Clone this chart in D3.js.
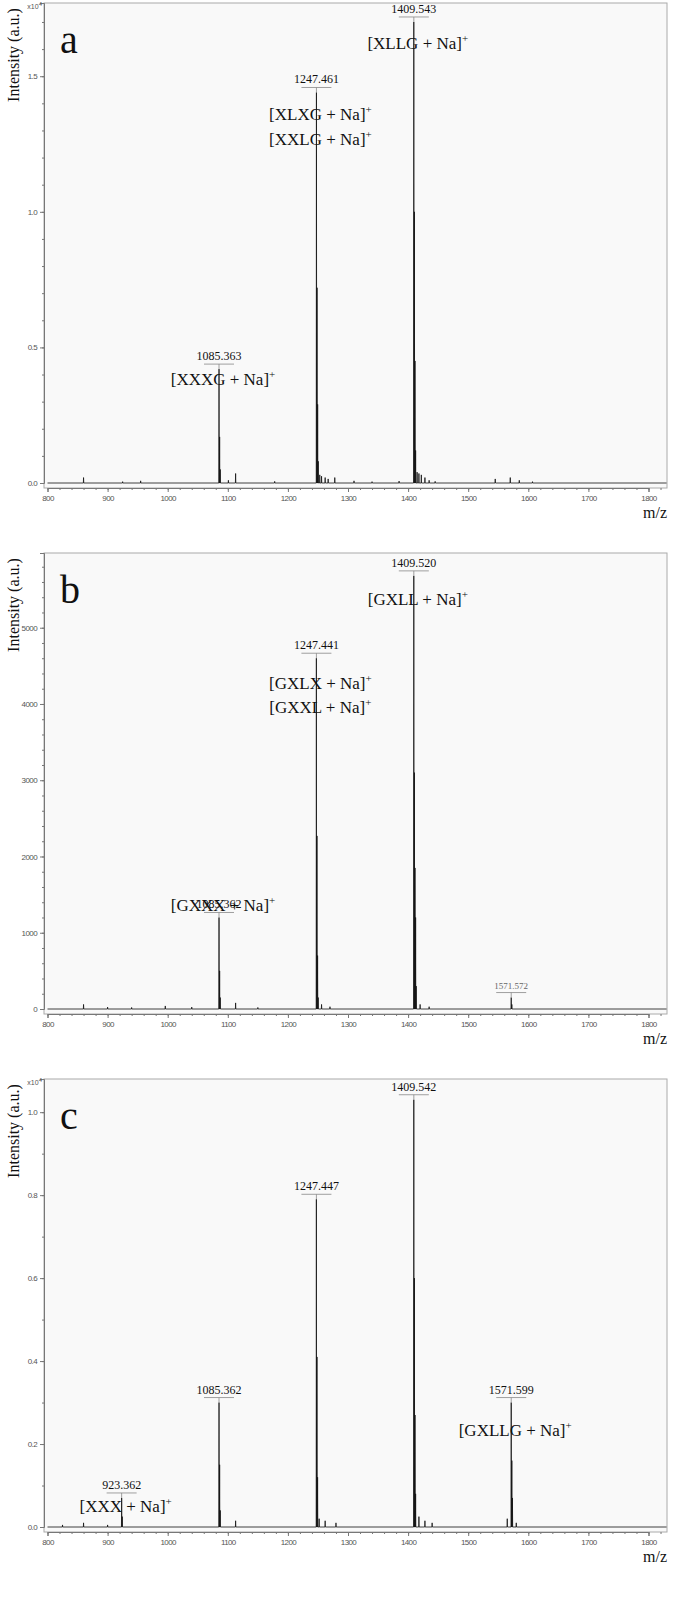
<!DOCTYPE html>
<html><head><meta charset="utf-8">
<script src="https://cdn.jsdelivr.net/npm/d3@7"></script>
<style>body{margin:0;background:#fff}</style></head><body>
<script>
// peaks: [m/z, intensity]
const peaksA = [[860,0.02],[925,0.005],[955,0.008],[1085.4,0.42],[1086.4,0.17],[1087.4,0.05],[1101,0.01],[1113,0.035],[1178,0.006],
 [1247.5,1.44],[1248.5,0.72],[1249.5,0.29],[1250.5,0.08],[1253,0.03],[1256,0.025],[1262,0.02],[1267,0.015],[1278,0.02],[1310,0.008],[1340,0.005],[1385,0.007],
 [1409.5,1.70],[1410.5,1.00],[1411.5,0.45],[1412.5,0.12],[1415,0.04],[1418,0.035],[1422,0.03],[1428,0.02],[1435,0.01],[1445,0.006],[1545,0.015],[1570,0.02],[1585,0.01],[1607,0.005]];
const peaksB = [[860,60],[900,25],[940,20],[996,40],[1040,25],[1085.4,1200],[1086.4,500],[1087.4,150],[1113,80],[1150,20],
 [1247.4,4600],[1248.4,2270],[1249.4,700],[1250.4,150],[1256,60],[1270,30],
 [1409.5,5680],[1410.5,3100],[1411.5,1850],[1412.5,1200],[1413.5,300],[1420,60],[1435,30],[1571.6,150],[1572.6,60]];
const peaksC = [[825,0.005],[860,0.01],[900,0.005],[923.4,0.07],[924.4,0.025],[1085.4,0.30],[1086.4,0.15],[1087.4,0.04],[1113,0.015],
 [1247.4,0.79],[1248.4,0.41],[1249.4,0.12],[1252,0.02],[1262,0.015],[1280,0.01],
 [1409.5,1.03],[1410.5,0.60],[1411.5,0.27],[1412.5,0.08],[1418,0.025],[1428,0.015],[1440,0.01],
 [1565,0.02],[1571.6,0.30],[1572.6,0.16],[1573.6,0.07],[1580,0.01]];
const annA = [[1085.363,0.42],[1247.461,1.44],[1409.543,1.70]];
const annB = [[1085.362,1200],[1247.441,4600],[1409.520,5680],[1571.572,150]];
const annC = [[923.362,0.07],[1085.362,0.30],[1247.447,0.79],[1409.542,1.03],[1571.599,0.30]];
const namesA = [["[XLLG + Na]",1409.5,1.60],["[XLXG + Na]",1247.5,1.34],["[XXLG + Na]",1247.5,1.245],["[XXXG + Na]",1085.4,0.36]];
const namesB = [["[GXLL + Na]",1409.5,5300],["[GXLX + Na]",1247.4,4200],["[GXXL + Na]",1247.4,3880],["[GXXX + Na]",1085.4,1280]];
const namesC = [["[GXLLG + Na]",1571.6,0.22],["[XXX + Na]",923.4,0.035]];
const yTicksA=[0,0.5,1.0,1.5], yTicksB=[0,1000,2000,3000,4000,5000], yTicksC=[0,0.2,0.4,0.6,0.8,1.0];
const xTicks=[800,900,1000,1100,1200,1300,1400,1500,1600,1700,1800];

const W=675,H=1603;
const svg=d3.select("body").append("svg").attr("width",W).attr("height",H);
const panels=[
 {letter:"a",peaks:peaksA,ann:annA,names:namesA,yt:yTicksA,ymax:1.77,minor:0.1,top:3,bot:483,fmt:d3.format(".1f"),exp:true},
 {letter:"b",peaks:peaksB,ann:annB,names:namesB,yt:yTicksB,ymax:5980,minor:200,top:553,bot:1009,fmt:d3.format("d"),exp:false},
 {letter:"c",peaks:peaksC,ann:annC,names:namesC,yt:yTicksC,ymax:1.08,minor:0.1,top:1079,bot:1527,fmt:d3.format(".1f"),exp:true}
];
const x=d3.scaleLinear().domain([800,1800]).range([47.5,648.5]);
const xL=44, xR=667;
panels.forEach(p=>{
 const y=d3.scaleLinear().domain([0,p.ymax]).range([p.bot,p.top]);
 const g=svg.append("g");
 g.append("rect").attr("x",xL).attr("y",p.top).attr("width",xR-xL).attr("height",p.bot+5-p.top).attr("fill","#f9f9f9").attr("stroke","#aaa");
 const ya=d3.axisLeft(y).tickValues(p.yt).tickFormat(p.fmt).tickSize(4);
 g.append("g").attr("transform",`translate(${xL},0)`).call(ya);
 const ym=d3.axisLeft(y).tickValues(d3.range(0,p.ymax,p.minor)).tickFormat("").tickSize(2);
 g.append("g").attr("transform",`translate(${xL},0)`).call(ym).select(".domain").remove();
 const xb=p.bot+5;
 const xa=d3.axisBottom(x).tickValues(xTicks).tickFormat(d3.format("d")).tickSize(4);
 g.append("g").attr("transform",`translate(0,${xb})`).call(xa);
 g.append("g").attr("transform",`translate(0,${xb})`).call(d3.axisBottom(x).tickValues(d3.range(800,1830,20)).tickFormat("").tickSize(2)).select(".domain").remove();
 g.selectAll(".tick text").attr("font-family","Liberation Sans").attr("font-size",8).attr("fill","#555").attr("letter-spacing","-0.6");
 g.selectAll(".domain,.tick line").attr("stroke","#777");
 const pts=[[800,0]];
 p.peaks.slice().sort((a,b)=>a[0]-b[0]).forEach(([m,h])=>{pts.push([m-0.35,0],[m,h],[m+0.35,0]);});
 pts.push([1830,0]);
 g.append("path").attr("d",d3.line().x(d=>x(d[0])).y(d=>y(d[1]))(pts)).attr("fill","none").attr("stroke","#111").attr("stroke-width",0.8);
 p.ann.forEach(([m,h])=>{
  const px=x(m), small=(p.letter==="b"&&h<p.ymax*0.05);
  const top=y(h)-5;
  g.append("line").attr("x1",px).attr("x2",px).attr("y1",y(h)).attr("y2",top).attr("stroke","#888").attr("stroke-width",0.8);
  g.append("line").attr("x1",px-15).attr("x2",px+15).attr("y1",top).attr("y2",top).attr("stroke","#888").attr("stroke-width",0.8);
  g.append("text").attr("x",px).attr("y",top-4).attr("text-anchor","middle").attr("font-family","Liberation Serif")
   .attr("font-size",small?9:12).attr("fill",small?"#666":"#111").text(m.toFixed(3));
 });
 p.names.forEach(([t,m,v])=>{
  const tx=g.append("text").attr("x",x(m)+4).attr("y",y(v)).attr("text-anchor","middle").attr("font-family","Liberation Serif").attr("font-size",17).attr("fill","#111").text(t);
  tx.append("tspan").attr("font-size",11).attr("dy",-7).text("+");
 });
 g.append("text").attr("x",60).attr("y",p.top+50).attr("font-family","Liberation Serif").attr("font-size",40).attr("fill","#111").text(p.letter);
 g.append("text").attr("transform",`translate(19,${p.top+52}) rotate(-90)`).attr("text-anchor","middle").attr("font-family","Liberation Serif").attr("font-size",16).attr("fill","#111").text("Intensity (a.u.)");
 g.append("text").attr("x",xR).attr("y",xb+30).attr("text-anchor","end").attr("font-family","Liberation Serif").attr("font-size",16).attr("fill","#111").text("m/z");
 if(p.exp){const e=g.append("text").attr("x",xL-2).attr("y",p.top+6).attr("text-anchor","end").attr("font-family","Liberation Sans").attr("font-size",7).attr("fill","#555").text("x10");
  e.append("tspan").attr("dy",-3).attr("font-size",6).text("4");}
});
</script></body></html>
